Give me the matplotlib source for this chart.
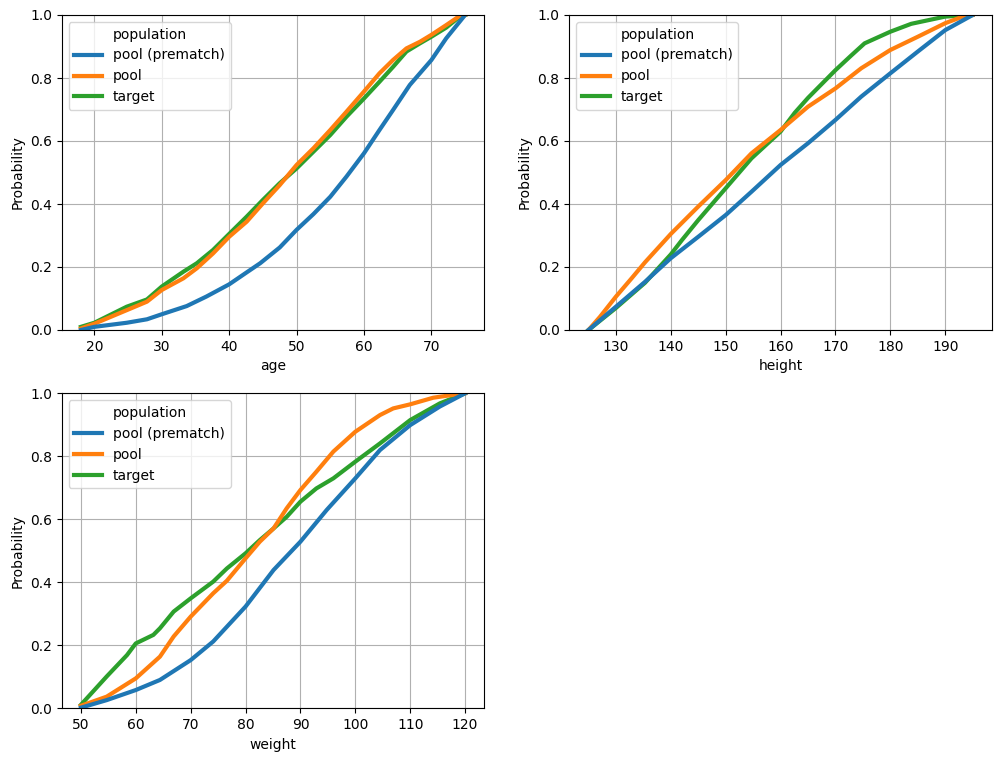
import numpy as np
import matplotlib.pyplot as plt
from matplotlib.lines import Line2D

# ---- age ----
age_pre_x = [18, 20, 24.8, 27.8, 30, 33.7, 36.6, 40, 42.6, 44.6, 47.5, 50, 52.5, 55, 57.4, 60, 62.3, 64.3, 66.8, 70, 72.2, 75]
age_pre_y = [0.0, 0.01, 0.023, 0.034, 0.05, 0.076, 0.106, 0.145, 0.183, 0.212, 0.262, 0.318, 0.368, 0.423, 0.487, 0.561, 0.635, 0.698, 0.778, 0.857, 0.926, 1.0]
age_pool_x = [18, 20, 24.8, 27.8, 30, 33.2, 35.2, 37.6, 40, 42.6, 45, 47.5, 50, 52.5, 55, 57.4, 60, 62.3, 64.3, 66.3, 68.3, 70, 72.2, 74.2, 75]
age_pool_y = [0.005, 0.02, 0.063, 0.09, 0.127, 0.164, 0.196, 0.243, 0.296, 0.344, 0.402, 0.46, 0.524, 0.577, 0.635, 0.693, 0.757, 0.815, 0.857, 0.894, 0.915, 0.937, 0.968, 0.997, 1.0]
age_tgt_x = [18, 20, 24.8, 27.8, 30, 33.2, 35.2, 37.6, 40, 42.6, 45, 47.5, 50, 52.5, 55, 57.4, 60, 62.3, 64.3, 66.3, 68.3, 70, 72.2, 74.2, 75]
age_tgt_y = [0.01, 0.023, 0.074, 0.097, 0.138, 0.185, 0.212, 0.254, 0.305, 0.36, 0.413, 0.466, 0.513, 0.566, 0.619, 0.677, 0.735, 0.788, 0.835, 0.884, 0.91, 0.931, 0.96, 0.995, 1.0]

# ---- height ----
h_pre_x = [125, 130, 135.3, 140, 145, 150, 154.7, 160, 165, 170, 174.7, 180, 185, 190, 195]
h_pre_y = [0.0, 0.074, 0.153, 0.228, 0.296, 0.365, 0.439, 0.524, 0.593, 0.667, 0.741, 0.815, 0.884, 0.952, 1.0]
h_pool_x = [125, 127.1, 130, 132.9, 135.3, 140, 145, 150, 154.7, 160, 165, 170, 174.7, 180, 185, 190, 193.5, 195]
h_pool_y = [0.0, 0.042, 0.106, 0.165, 0.215, 0.305, 0.392, 0.476, 0.561, 0.635, 0.709, 0.767, 0.831, 0.889, 0.931, 0.974, 0.997, 1.0]
h_tgt_x = [125, 130, 135.3, 140, 142, 145, 150, 154.7, 160, 162.6, 165, 170, 172.9, 175.3, 180, 183.8, 190, 195]
h_tgt_y = [0.0, 0.07, 0.15, 0.24, 0.285, 0.349, 0.45, 0.545, 0.63, 0.69, 0.737, 0.825, 0.872, 0.91, 0.947, 0.972, 0.995, 1.0]

# ---- weight ----
w_pre_x = [50, 54.7, 60, 64.4, 70, 74.1, 80, 85.1, 90, 94.8, 100, 104.5, 110, 115.4, 120]
w_pre_y = [0.002, 0.026, 0.058, 0.09, 0.153, 0.212, 0.323, 0.439, 0.529, 0.63, 0.73, 0.82, 0.899, 0.958, 1.0]
w_pool_x = [50, 54.7, 60, 64.4, 66.9, 70, 74.1, 76.6, 80, 82.6, 85.1, 87.5, 90, 92.9, 96, 100, 104.5, 106.9, 110, 114.2, 117.8, 120]
w_pool_y = [0.008, 0.037, 0.095, 0.164, 0.228, 0.291, 0.365, 0.405, 0.476, 0.529, 0.571, 0.635, 0.693, 0.751, 0.815, 0.878, 0.931, 0.952, 0.965, 0.986, 0.995, 1.0]
w_tgt_x = [50, 54.7, 58.4, 60, 63.2, 64.4, 66.9, 70, 74.1, 76.6, 80, 82.6, 85.1, 87.5, 90, 92.9, 96, 100, 104.5, 110, 115.4, 120]
w_tgt_y = [0.011, 0.101, 0.169, 0.206, 0.233, 0.254, 0.307, 0.349, 0.402, 0.444, 0.492, 0.534, 0.571, 0.608, 0.656, 0.698, 0.73, 0.783, 0.841, 0.915, 0.968, 1.0]

labels = ['pool (prematch)', 'pool', 'target']
colors = ['#1f77b4', '#ff7f0e', '#2ca02c']

panels = [
    ('age', [(age_pre_x, age_pre_y), (age_pool_x, age_pool_y), (age_tgt_x, age_tgt_y)]),
    ('height', [(h_pre_x, h_pre_y), (h_pool_x, h_pool_y), (h_tgt_x, h_tgt_y)]),
    ('weight', [(w_pre_x, w_pre_y), (w_pool_x, w_pool_y), (w_tgt_x, w_tgt_y)]),
]

W, H = 1001, 761
fig = plt.figure(figsize=(W / 100, H / 100), dpi=100)
boxes = [(61.7, 15, 422.6, 315), (569.3, 15, 422.6, 315), (61.7, 393.3, 422.6, 315)]

for (name, series), (l, t, w, h) in zip(panels, boxes):
    ax = fig.add_axes([l / W, 1 - (t + h) / H, w / W, h / H])
    # seaborn draws hue levels in reverse order
    for i in [2, 1, 0]:
        xs, ys = series[i]
        ax.plot(xs, ys, color=colors[i], lw=3)
    lo, hi = series[0][0][0], series[0][0][-1]
    pad = (hi - lo) * 0.05
    ax.set_xlim(lo - pad, hi + pad)
    ax.set_ylim(0, 1)
    ax.grid(True)
    ax.set_xlabel(name)
    ax.set_ylabel('Probability')
    handles = [Line2D([], [], linestyle='none')]
    handles += [Line2D([], [], color=c, lw=3) for c in colors]
    ax.legend(handles, ['population'] + labels, loc='upper left')

fig.savefig('out.png', dpi=100)
